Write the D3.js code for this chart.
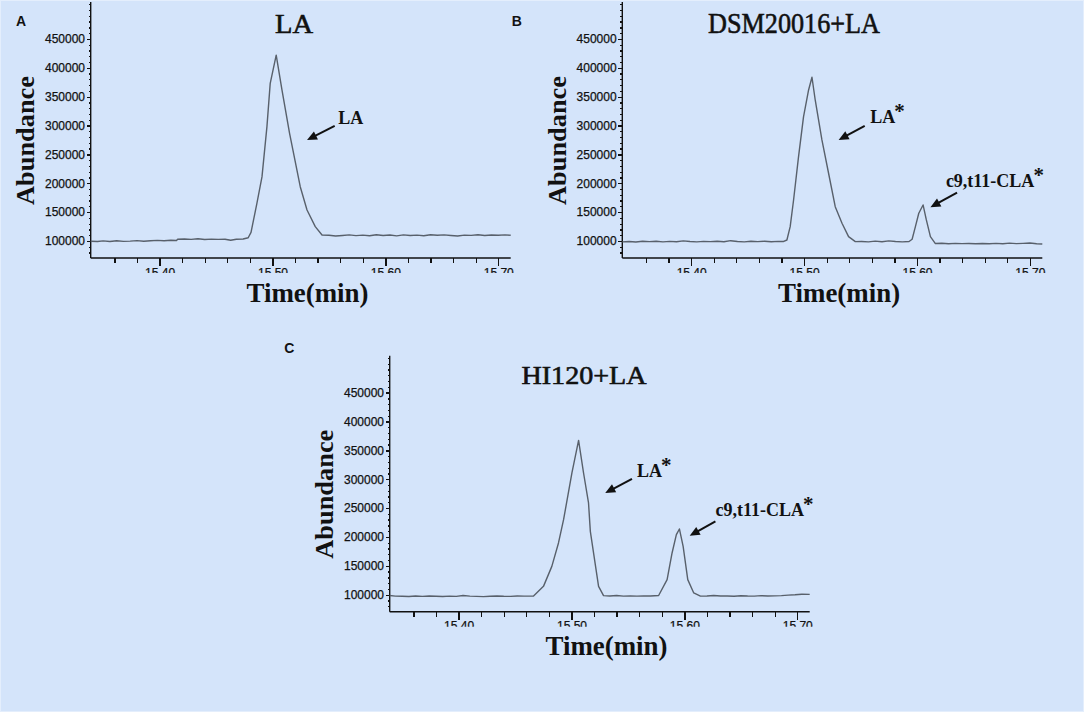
<!DOCTYPE html>
<html>
<head>
<meta charset="utf-8">
<script src="https://cdn.jsdelivr.net/npm/d3@7"></script>
<style>
	html, body { margin: 0; padding: 0; background: #d4e4fa; }
	svg { display: block; }
	.axis path, .axis line { stroke: #111; stroke-width: 1.3; shape-rendering: crispEdges; }
	.axis text { font-family: "Liberation Sans", Arial, sans-serif; font-size: 12px; fill: #111; stroke: #111; stroke-width: 0.25; }
	.trace { fill: none; stroke: #58606b; stroke-width: 1.4; stroke-linejoin: round; }
	.serif { font-family: "Liberation Serif", "Times New Roman", serif; fill: #111; }
	.title { stroke: #111; stroke-width: 0.6; }
	.letter { font-family: "Liberation Sans", Arial, sans-serif; font-weight: bold; font-size: 14px; fill: #111; }
	.arrow { stroke: #111; stroke-width: 2; fill: none; }
	.arrow-head { fill: #111; stroke: none; }
</style>
</head>
<body>
<svg id="chart" width="1084" height="712"></svg>
<script>
// tick values
var yMajorTicks = [100000, 150000, 200000, 250000, 300000, 350000, 400000, 450000];
var xMajorTicks = [15.40, 15.50, 15.60, 15.70];
var xMinorTicks = [15.36, 15.38, 15.40, 15.42, 15.44, 15.46, 15.48, 15.50, 15.52, 15.54,
	15.56, 15.58, 15.60, 15.62, 15.64, 15.66, 15.68, 15.70];

var panelLetters = ["A", "B", "C"];
var panelTitles = ["LA", "DSM20016+LA", "HI120+LA"];

// [time (min), abundance]
var traceLA = [
	[15.339, 99500], [15.345, 99000], [15.350, 100200], [15.356, 99000], [15.362, 100500],
	[15.368, 99300], [15.374, 99800], [15.380, 100600], [15.386, 99500], [15.392, 100300],
	[15.398, 101000], [15.404, 100500], [15.410, 101200], [15.415, 100800], [15.416, 103000],
	[15.422, 103500], [15.428, 102800], [15.434, 103800], [15.440, 102600], [15.446, 103200],
	[15.452, 102800], [15.458, 103000], [15.463, 101200], [15.468, 103000], [15.474, 103500],
	[15.4785, 105500], [15.4810, 115000], [15.4862, 165000], [15.4907, 211000], [15.4951, 298000],
	[15.4980, 373000], [15.5033, 422000], [15.5084, 361600], [15.5151, 287000], [15.5246, 194000],
	[15.5306, 153700], [15.5379, 124800], [15.5439, 110400], [15.550, 109800], [15.556, 108500],
	[15.562, 109500], [15.568, 110500], [15.574, 109300], [15.580, 110200], [15.586, 109000],
	[15.592, 110800], [15.598, 109600], [15.604, 110300], [15.610, 108800], [15.616, 110500],
	[15.622, 109600], [15.628, 110200], [15.634, 109000], [15.640, 110800], [15.646, 109800],
	[15.652, 110600], [15.658, 109500], [15.664, 108600], [15.670, 110200], [15.676, 109700],
	[15.682, 110800], [15.688, 109400], [15.694, 110300], [15.700, 109800], [15.706, 110500],
	[15.711, 109800]
];

var traceDSM = [
	[15.339, 98500], [15.345, 99200], [15.351, 98300], [15.357, 99500], [15.363, 98800],
	[15.369, 99600], [15.375, 98400], [15.381, 99300], [15.387, 98700], [15.393, 100200],
	[15.399, 99000], [15.405, 98500], [15.411, 99300], [15.417, 98800], [15.423, 99500],
	[15.429, 98600], [15.435, 100500], [15.441, 99200], [15.447, 98500], [15.453, 99400],
	[15.459, 98800], [15.465, 99500], [15.471, 98700], [15.477, 99300], [15.4815, 99000],
	[15.4848, 101700], [15.4877, 124800], [15.4907, 171000], [15.4951, 246000], [15.4995, 315000],
	[15.5040, 361600], [15.5070, 383600], [15.5099, 343800], [15.5158, 275000], [15.5217, 217300],
	[15.5276, 159400], [15.5336, 130700], [15.5394, 107500], [15.5454, 98800], [15.551, 99200],
	[15.557, 98500], [15.563, 99800], [15.569, 98600], [15.575, 100200], [15.581, 99000],
	[15.587, 98500], [15.593, 99000], [15.5957, 103000], [15.5986, 124800], [15.6016, 148000],
	[15.6054, 162400], [15.6083, 136400], [15.6119, 107500], [15.6163, 95500], [15.622, 96000],
	[15.628, 95200], [15.634, 95800], [15.640, 95400], [15.646, 95600], [15.652, 95100],
	[15.658, 95700], [15.664, 95300], [15.670, 95800], [15.676, 95200], [15.682, 96200],
	[15.688, 95400], [15.694, 95900], [15.700, 96500], [15.706, 95300], [15.711, 94800]
];

var traceHI = [
	[15.339, 98500], [15.344, 97500], [15.350, 97200], [15.356, 96800], [15.362, 97600],
	[15.368, 97000], [15.374, 97800], [15.380, 97200], [15.386, 96800], [15.392, 97500],
	[15.398, 97000], [15.404, 98500], [15.410, 97500], [15.416, 97000], [15.422, 96600],
	[15.428, 97300], [15.434, 97700], [15.440, 97200], [15.446, 97000], [15.452, 97800],
	[15.458, 97400], [15.4664, 97700], [15.4752, 114400], [15.4826, 149000], [15.4885, 189600],
	[15.4930, 230000], [15.5004, 310800], [15.5063, 367300], [15.5107, 310800], [15.5151, 258900],
	[15.5167, 209700], [15.5240, 114400], [15.5284, 98300], [15.534, 97800], [15.540, 98500],
	[15.546, 97500], [15.552, 97900], [15.558, 97400], [15.564, 97800], [15.570, 97600],
	[15.5772, 98500], [15.5847, 126000], [15.5891, 172200], [15.5929, 204000], [15.5956, 213800],
	[15.5989, 183700], [15.6030, 126000], [15.6083, 103000], [15.6142, 97500], [15.620, 97800],
	[15.626, 98500], [15.632, 97600], [15.638, 97800], [15.644, 97300], [15.650, 98200],
	[15.656, 97600], [15.662, 97400], [15.668, 98300], [15.674, 97600], [15.680, 98000],
	[15.686, 98400], [15.692, 99200], [15.698, 99800], [15.704, 100800], [15.711, 100500]
];

// peak labels: arrow tip, arrow tail and label anchor in [time, abundance]
var labelsLA = [
	{ text: "LA", star: false, tip: [15.5306, 275000], tail: [15.5551, 299200], at: [15.5583, 302700] }
];
var labelsDSM = [
	{ text: "LA", star: true, tip: [15.5306, 275000], tail: [15.5537, 299200], at: [15.5587, 304000] },
	{ text: "c9,t11-CLA", star: true, tip: [15.6119, 158400], tail: [15.6355, 183700], at: [15.6256, 194100] }
];
var labelsHI = [
	{ text: "LA", star: true, tip: [15.5299, 276200], tail: [15.5536, 300500], at: [15.5581, 303900] },
	{ text: "c9,t11-CLA", star: true, tip: [15.6047, 202200], tail: [15.6275, 227000], at: [15.6275, 235700] }
];

(function() {

	var PLOT_W = 420;
	var PLOT_H = 254;

	var layout = [
		{ left: 90.7, top: 4, titleX: 203.3, titleY: 28.7, titleW: 38, titleSize: 27, letterX: -74.7, letterY: 21.7 },
		{ left: 622.3, top: 4, titleX: 171.7, titleY: 28.7, titleW: 172, titleSize: 30, letterX: -110.6, letterY: 21.7 },
		{ left: 389.7, top: 357.7, titleX: 194.3, titleY: 26.3, titleW: 125, titleSize: 26, letterX: -105.4, letterY: -5.1 }
	];
	var traces = [traceLA, traceDSM, traceHI];
	var labels = [labelsLA, labelsDSM, labelsHI];

	var svg = d3.select("#chart");

	svg.append("rect")
		.attr("width", 1084)
		.attr("height", 712)
		.style("fill", "#d4e4fa")
		.style("stroke", "#e4eefc")
		.style("stroke-width", 2);

	// tick labels under the time axis are cut off in the original
	var defs = svg.append("defs");
	defs.append("clipPath")
		.attr("id", "xlabel-clip")
		.append("rect")
		.attr("x", -30)
		.attr("y", -12)
		.attr("width", 60)
		.attr("height", 27);

	var x = d3.scaleLinear().domain([15.339, 15.711]).range([0, PLOT_W]);
	var y = d3.scaleLinear().domain([70500, 510500]).range([PLOT_H, 0]);

	var line = d3.line()
		.x(function(d) { return x(d[0]); })
		.y(function(d) { return y(d[1]); });

	function unit(tail, tip) {
		var dx = tip[0] - tail[0], dy = tip[1] - tail[1];
		var len = Math.sqrt(dx * dx + dy * dy);
		return [dx / len, dy / len];
	}

	function arrowPath(tail, tip) {
		// shaft stops at the base of the head
		var u = unit(tail, tip);
		return "M" + tail[0] + "," + tail[1] + "L" + (tip[0] - u[0] * 9) + "," + (tip[1] - u[1] * 9);
	}

	function headPath(tail, tip) {
		var u = unit(tail, tip);
		var bx = tip[0] - u[0] * 10, by = tip[1] - u[1] * 10;
		var px = -u[1] * 4.5, py = u[0] * 4.5;
		return "M" + tip[0] + "," + tip[1] +
			"L" + (bx + px) + "," + (by + py) +
			"L" + (bx - px) + "," + (by - py) + "Z";
	}

	function drawPanel(i) {
		var L = layout[i];
		var g = svg.append("g").attr("transform", "translate(" + L.left + "," + L.top + ")");

		// minor ticks on the y axis
		g.append("g")
			.attr("class", "axis")
			.call(d3.axisLeft(y)
				.tickValues(d3.range(80000, 510001, 10000))
				.tickSize(2)
				.tickFormat(""))
			.select(".domain").remove();

		g.append("g")
			.attr("class", "axis")
			.call(d3.axisLeft(y)
				.tickValues(yMajorTicks)
				.tickSize(4)
				.tickSizeOuter(0)
				.tickPadding(1.7)
				.tickFormat(d3.format("d")))
			.select(".domain").remove();

		g.append("line")
			.attr("x1", 0).attr("x2", 0)
			.attr("y1", -2).attr("y2", PLOT_H)
			.style("stroke", "#111")
			.style("stroke-width", 1.4);

		g.append("g")
			.attr("class", "axis")
			.attr("transform", "translate(0," + PLOT_H + ")")
			.call(d3.axisBottom(x)
				.tickValues(xMinorTicks)
				.tickSize(5)
				.tickFormat(""))
			.select(".domain").remove();

		var xAxis = g.append("g")
			.attr("class", "axis")
			.attr("transform", "translate(0," + PLOT_H + ")")
			.call(d3.axisBottom(x)
				.tickValues(xMajorTicks)
				.tickSize(8)
				.tickSizeOuter(0)
				.tickPadding(2)
				.tickFormat(d3.format(".2f")));
		xAxis.select(".domain").remove();
		xAxis.selectAll("text").attr("clip-path", "url(#xlabel-clip)");

		g.append("line")
			.attr("x1", 0).attr("x2", PLOT_W)
			.attr("y1", PLOT_H).attr("y2", PLOT_H)
			.style("stroke", "#111")
			.style("stroke-width", 1.4);

		g.append("path")
			.datum(traces[i])
			.attr("class", "trace")
			.attr("d", line);

		// titles and axis names
		g.append("text")
			.attr("class", "serif title")
			.attr("x", L.titleX)
			.attr("y", L.titleY)
			.attr("text-anchor", "middle")
			.attr("font-size", L.titleSize + "px")
			.attr("textLength", L.titleW)
			.attr("lengthAdjust", "spacingAndGlyphs")
			.text(panelTitles[i]);

		g.append("text")
			.attr("class", "serif")
			.attr("x", 216.8)
			.attr("y", 297.7)
			.attr("text-anchor", "middle")
			.attr("font-size", "27px")
			.attr("font-weight", "bold")
			.attr("textLength", 122)
			.attr("lengthAdjust", "spacingAndGlyphs")
			.text("Time(min)");

		g.append("text")
			.attr("class", "serif")
			.attr("transform", "translate(-56.7,136.5) rotate(-90)")
			.attr("text-anchor", "middle")
			.attr("font-size", "26px")
			.attr("font-weight", "bold")
			.attr("textLength", 129)
			.attr("lengthAdjust", "spacingAndGlyphs")
			.text("Abundance");

		g.append("text")
			.attr("class", "letter")
			.attr("x", L.letterX)
			.attr("y", L.letterY)
			.text(panelLetters[i]);

		// peak annotations
		labels[i].forEach(function(a) {
			var tip = [x(a.tip[0]), y(a.tip[1])];
			var tail = [x(a.tail[0]), y(a.tail[1])];
			g.append("path").attr("class", "arrow").attr("d", arrowPath(tail, tip));
			g.append("path").attr("class", "arrow-head").attr("d", headPath(tail, tip));

			var t = g.append("text")
				.attr("class", "serif")
				.attr("x", x(a.at[0]))
				.attr("y", y(a.at[1]))
				.attr("font-size", "18px")
				.attr("font-weight", "bold");
			t.append("tspan").text(a.text);
			if (a.star) {
				t.append("tspan")
					.attr("dx", -1)
					.attr("dy", -5)
					.attr("font-size", "21px")
					.text("*");
			}
		});
	}

	for (var i = 0; i < layout.length; i++) {
		drawPanel(i);
	}
}());
</script>
</body>
</html>
